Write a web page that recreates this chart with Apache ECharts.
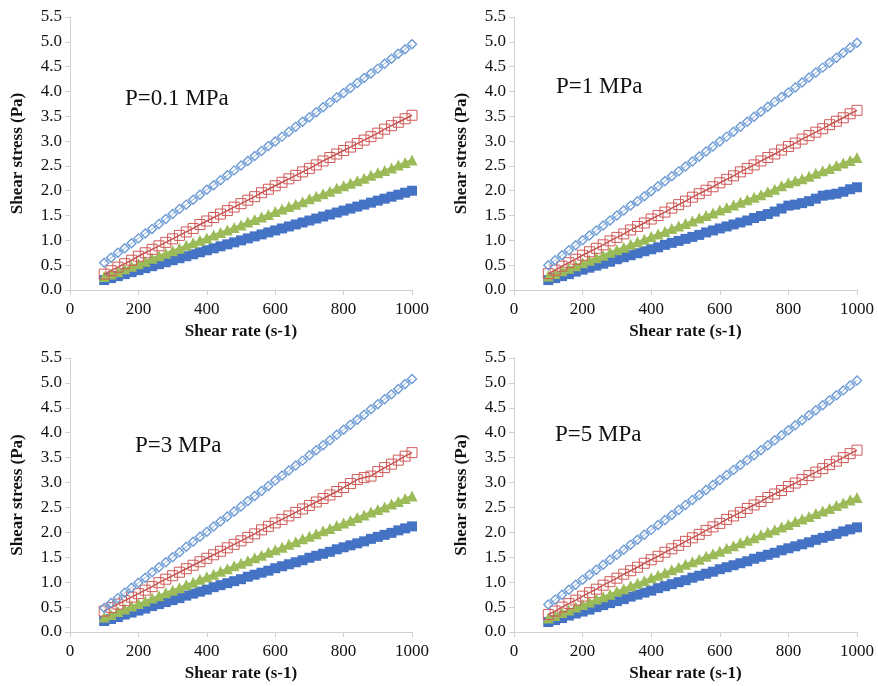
<!DOCTYPE html>
<html>
<head>
<meta charset="utf-8">
<script src="https://cdn.jsdelivr.net/npm/echarts@6/dist/echarts.min.js"></script>
<style>
html, body { margin: 0; padding: 0; background: #fff; }
#chart { width: 878px; height: 686px; }
</style>
</head>
<body>
<div id="chart"></div>
<script>
// shear rate (s-1), shared by all series
var rates = [100,120,140,160,180,200,220,240,260,280,300,320,340,360,380,400,420,440,460,480,
	500,520,540,560,580,600,620,640,660,680,700,720,740,760,780,800,820,840,860,880,900,920,940,960,980,1000];

var panelLabels = ['P=0.1 MPa', 'P=1 MPa', 'P=3 MPa', 'P=5 MPa'];

// P = 0.1 MPa
var p01Diamond = [0.55,0.65,0.75,0.84,0.94,1.04,1.14,1.23,1.33,1.43,1.53,1.63,1.72,1.82,1.92,2.02,2.11,2.21,2.31,2.41,
	2.51,2.60,2.70,2.80,2.90,2.99,3.09,3.19,3.29,3.39,3.48,3.58,3.68,3.78,3.88,3.97,4.07,4.17,4.27,4.36,4.46,4.56,4.66,4.76,4.85,4.95];
var p01Square = [0.32,0.39,0.46,0.53,0.60,0.68,0.75,0.82,0.89,0.96,1.03,1.10,1.17,1.24,1.32,1.39,1.46,1.53,1.60,1.67,
	1.74,1.81,1.88,1.96,2.03,2.10,2.17,2.24,2.31,2.38,2.45,2.52,2.60,2.67,2.74,2.81,2.88,2.95,3.02,3.09,3.16,3.24,3.31,3.38,3.45,3.52];
var p01Triangle = [0.27,0.32,0.37,0.43,0.48,0.53,0.58,0.64,0.69,0.74,0.79,0.84,0.90,0.95,1.00,1.05,1.11,1.16,1.21,1.26,
	1.31,1.37,1.42,1.47,1.52,1.58,1.63,1.68,1.73,1.78,1.84,1.89,1.94,1.99,2.05,2.10,2.15,2.20,2.25,2.31,2.36,2.41,2.46,2.52,2.57,2.62];
var p01Filled = [0.20,0.24,0.28,0.32,0.36,0.40,0.44,0.48,0.52,0.56,0.60,0.64,0.68,0.72,0.76,0.80,0.84,0.88,0.92,0.96,
	1.00,1.04,1.08,1.12,1.16,1.20,1.24,1.28,1.32,1.36,1.40,1.44,1.48,1.52,1.56,1.60,1.64,1.68,1.72,1.76,1.80,1.84,1.88,1.92,1.96,2.00];

// P = 1 MPa
var p1Diamond = [0.50,0.60,0.70,0.80,0.90,1.00,1.10,1.20,1.30,1.40,1.50,1.60,1.70,1.79,1.89,1.99,2.09,2.19,2.29,2.39,
	2.49,2.59,2.69,2.79,2.89,2.99,3.09,3.19,3.29,3.39,3.49,3.59,3.69,3.79,3.89,3.98,4.08,4.18,4.28,4.38,4.48,4.58,4.68,4.78,4.88,4.98];
var p1Square = [0.33,0.40,0.48,0.55,0.62,0.70,0.77,0.84,0.91,0.99,1.06,1.13,1.21,1.28,1.35,1.43,1.50,1.57,1.65,1.72,
	1.79,1.87,1.94,2.01,2.08,2.16,2.23,2.30,2.38,2.45,2.52,2.60,2.67,2.74,2.82,2.89,2.96,3.04,3.11,3.18,3.25,3.33,3.40,3.47,3.55,3.62];
var p1Triangle = [0.28,0.33,0.39,0.44,0.49,0.55,0.60,0.65,0.70,0.76,0.81,0.86,0.92,0.97,1.02,1.08,1.13,1.18,1.24,1.29,
	1.34,1.39,1.45,1.50,1.55,1.61,1.66,1.71,1.77,1.82,1.87,1.92,1.98,2.03,2.10,2.16,2.20,2.24,2.29,2.35,2.40,2.45,2.51,2.56,2.61,2.67];
var p1Filled = [0.20,0.24,0.28,0.32,0.37,0.41,0.45,0.49,0.53,0.57,0.62,0.66,0.70,0.74,0.78,0.82,0.86,0.91,0.95,0.99,
	1.03,1.07,1.11,1.16,1.20,1.24,1.28,1.32,1.36,1.40,1.45,1.49,1.53,1.58,1.64,1.70,1.72,1.75,1.79,1.84,1.90,1.92,1.94,1.98,2.03,2.07];

// P = 3 MPa
var p3Diamond = [0.48,0.58,0.68,0.79,0.89,0.99,1.09,1.20,1.30,1.40,1.50,1.60,1.71,1.81,1.91,2.01,2.12,2.22,2.32,2.42,
	2.52,2.63,2.73,2.83,2.93,3.04,3.14,3.24,3.34,3.44,3.55,3.65,3.75,3.85,3.96,4.06,4.16,4.26,4.36,4.47,4.57,4.67,4.77,4.88,4.98,5.08];
var p3Square = [0.42,0.49,0.56,0.63,0.70,0.77,0.84,0.91,0.99,1.06,1.13,1.20,1.27,1.34,1.41,1.48,1.55,1.62,1.69,1.76,
	1.83,1.90,1.97,2.05,2.12,2.19,2.26,2.33,2.40,2.47,2.54,2.61,2.68,2.75,2.82,2.90,2.98,3.06,3.10,3.13,3.22,3.30,3.37,3.45,3.53,3.60];
var p3Triangle = [0.30,0.35,0.41,0.46,0.52,0.57,0.62,0.68,0.73,0.79,0.84,0.89,0.95,1.00,1.06,1.11,1.16,1.22,1.27,1.33,
	1.38,1.43,1.49,1.54,1.60,1.65,1.70,1.76,1.81,1.87,1.92,1.97,2.03,2.08,2.14,2.19,2.24,2.30,2.35,2.41,2.46,2.51,2.57,2.62,2.68,2.73];
var p3Filled = [0.22,0.26,0.30,0.35,0.39,0.43,0.47,0.52,0.56,0.60,0.64,0.68,0.73,0.77,0.81,0.85,0.90,0.94,0.98,1.02,
	1.06,1.11,1.15,1.19,1.23,1.28,1.32,1.36,1.40,1.44,1.49,1.53,1.57,1.61,1.66,1.70,1.74,1.78,1.82,1.87,1.91,1.95,1.99,2.04,2.08,2.12];

// P = 5 MPa
var p5Diamond = [0.55,0.65,0.75,0.85,0.95,1.05,1.15,1.25,1.35,1.45,1.55,1.65,1.75,1.85,1.95,2.05,2.15,2.25,2.35,2.45,
	2.55,2.65,2.75,2.85,2.95,3.05,3.15,3.25,3.35,3.45,3.55,3.65,3.75,3.85,3.95,4.05,4.15,4.25,4.35,4.45,4.55,4.65,4.75,4.85,4.95,5.05];
var p5Square = [0.35,0.42,0.50,0.57,0.64,0.72,0.79,0.86,0.94,1.01,1.08,1.16,1.23,1.30,1.38,1.45,1.52,1.60,1.67,1.74,
	1.82,1.89,1.96,2.04,2.11,2.18,2.26,2.33,2.40,2.48,2.55,2.62,2.70,2.77,2.84,2.92,2.99,3.06,3.14,3.21,3.28,3.36,3.43,3.50,3.58,3.65];
var p5Triangle = [0.28,0.33,0.39,0.44,0.50,0.55,0.60,0.66,0.71,0.76,0.82,0.87,0.93,0.98,1.03,1.09,1.14,1.19,1.25,1.30,
	1.36,1.41,1.46,1.52,1.57,1.62,1.68,1.73,1.79,1.84,1.89,1.95,2.00,2.05,2.11,2.16,2.22,2.27,2.32,2.38,2.43,2.48,2.54,2.59,2.65,2.70];
var p5Filled = [0.20,0.24,0.28,0.33,0.37,0.41,0.45,0.50,0.54,0.58,0.62,0.66,0.71,0.75,0.79,0.83,0.88,0.92,0.96,1.00,
	1.04,1.09,1.13,1.17,1.21,1.26,1.30,1.34,1.38,1.42,1.47,1.51,1.55,1.59,1.64,1.68,1.72,1.76,1.80,1.85,1.89,1.93,1.97,2.02,2.06,2.10];

var panels = [
	[p01Diamond, p01Square, p01Triangle, p01Filled],
	[p1Diamond, p1Square, p1Triangle, p1Filled],
	[p3Diamond, p3Square, p3Triangle, p3Filled],
	[p5Diamond, p5Square, p5Triangle, p5Filled]
];

var serif = '"Liberation Serif", "DejaVu Serif", serif';

var grids = [
	{ left: 70, top: 17, width: 342, height: 273 },
	{ left: 514, top: 17, width: 343, height: 273 },
	{ left: 70, top: 358, width: 342, height: 274 },
	{ left: 514, top: 358, width: 343, height: 274 }
];
var labelPos = [[125, 87], [556, 75], [135, 434], [555, 423]];

function pairs(ys) {
	var out = [];
	for (var k = 0; k < ys.length; k++) out.push([rates[k], ys[k]]);
	return out;
}

var xAxes = [], yAxes = [], series = [], graphics = [];

grids.forEach(function (g, i) {
	xAxes.push({
		gridIndex: i, type: 'value', min: 0, max: 1000, interval: 200,
		name: 'Shear rate (s-1)', nameLocation: 'middle', nameGap: 33,
		nameTextStyle: { fontFamily: serif, fontWeight: 'bold', fontSize: 17, color: '#111' },
		axisLine: { lineStyle: { color: '#d0d0d0' } },
		axisTick: { show: true, length: 5, lineStyle: { color: '#d0d0d0' } },
		axisLabel: { fontFamily: serif, fontSize: 17, color: '#111', margin: 11,
			formatter: function (v) { return String(v); } },
		splitLine: { show: false }
	});
	yAxes.push({
		gridIndex: i, type: 'value', min: 0, max: 5.5, interval: 0.5,
		name: 'Shear stress (Pa)', nameLocation: 'middle', nameGap: 44,
		nameTextStyle: { fontFamily: serif, fontWeight: 'bold', fontSize: 17, color: '#111' },
		axisLine: { show: true, lineStyle: { color: '#d0d0d0' } },
		axisTick: { show: true, length: 5, lineStyle: { color: '#d0d0d0' } },
		axisLabel: { fontFamily: serif, fontSize: 17, color: '#111', margin: 8,
			formatter: function (v) { return v.toFixed(1); } },
		splitLine: { show: false }
	});

	var d = panels[i];
	series.push({
		type: 'line', xAxisIndex: i, yAxisIndex: i, data: pairs(d[3]),
		symbol: 'rect', symbolSize: 10, showSymbol: true,
		itemStyle: { color: '#4472c4' }, lineStyle: { width: 2, color: '#4472c4' }, z: 2
	});
	series.push({
		type: 'line', xAxisIndex: i, yAxisIndex: i, data: pairs(d[2]),
		symbol: 'triangle', symbolSize: 11, showSymbol: true,
		itemStyle: { color: '#9bbb59' }, lineStyle: { width: 2, color: '#9bbb59' }, z: 3
	});
	series.push({
		type: 'line', xAxisIndex: i, yAxisIndex: i, data: pairs(d[1]),
		symbol: 'rect', symbolSize: 10, showSymbol: true,
		itemStyle: { color: 'rgba(255,255,255,0)', borderColor: '#d05a57', borderWidth: 1 },
		lineStyle: { width: 1.5, color: '#c0504d' }, z: 4
	});
	series.push({
		type: 'line', xAxisIndex: i, yAxisIndex: i, data: pairs(d[0]),
		symbol: 'diamond', symbolSize: 9, showSymbol: true,
		itemStyle: { color: 'rgba(255,255,255,0)', borderColor: '#6c9bd5', borderWidth: 1.4 },
		lineStyle: { width: 1, color: '#8fb3de' }, z: 5
	});

	graphics.push({
		type: 'text', left: labelPos[i][0], top: labelPos[i][1],
		style: { text: panelLabels[i], fontFamily: serif, fontSize: 23, fill: '#111' }
	});
});

var chart = echarts.init(document.getElementById('chart'), null, { renderer: 'canvas' });
chart.setOption({
	animation: false,
	backgroundColor: '#fff',
	grid: grids,
	xAxis: xAxes,
	yAxis: yAxes,
	series: series,
	graphic: graphics
});
</script>
</body>
</html>
